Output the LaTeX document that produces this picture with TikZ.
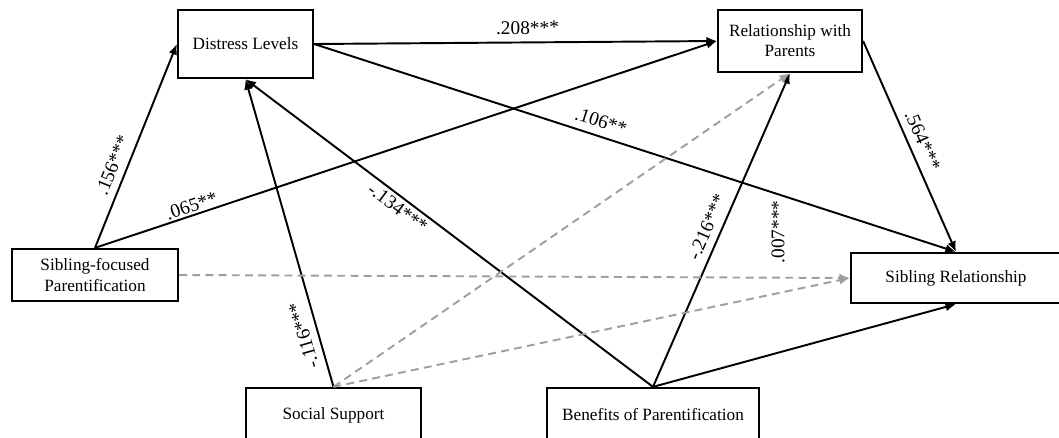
\documentclass[tikz,border=0pt]{standalone}
\usepackage{fontspec}
\setmainfont{Liberation Serif}
\usetikzlibrary{arrows.meta}

\begin{document}
\begin{tikzpicture}[x=0.02cm, y=-0.02cm, >={Latex[length=6pt,width=5pt]},
			var/.style={draw, line width=1.3pt, fill=none, align=center,
				text centered, text=black, inner sep=0pt, font=\fontsize{9.8}{11.5}\selectfont},
			eff/.style={->, line width=1.1pt, black},
			nseff/.style={->, line width=1.1pt, gray!75, dash pattern=on 4.5pt off 3pt},
			coef/.style={font=\fontsize{11}{13}\selectfont, inner sep=4pt}]
			\useasboundingbox (0,0) rectangle (1059,437);
			\node[var, minimum width=2.7cm, minimum height=1.36cm] (dl) at (245.5, 44) {Distress Levels};
			\node[var, minimum width=2.88cm, minimum height=1.24cm] (rwp) at (790, 41) {Relationship with\\Parents};
			\node[var, minimum width=3.32cm, minimum height=1.04cm] (sfp) at (95, 275) {Sibling-focused\\Parentification};
			\node[var, minimum width=4.2cm, minimum height=1.0cm] (sr) at (956, 278) {Sibling Relationship};
			\node[var, minimum width=3.5cm, minimum height=1.08cm] (ss) at (333.5, 415) {Social Support};
			\node[var, minimum width=4.24cm, minimum height=1.08cm] (bop) at (653, 415) {Benefits of Parentification};
			\node[coef, rotate=90] (b007) at (778, 232) {.007***};
			
			
			\path[eff] 	(sfp.north)  edge node[coef, sloped, above, pos=0.38] {.156***}  (dl.west);
			\path[eff] 	(sfp.north)  edge node[coef, sloped, above, pos=0.16, inner sep=1pt] {.065**}  (rwp.west);
			\path[eff] 	(dl.east)  edge node[coef, sloped, above, pos=0.53] {.208***}  (rwp.west);
			\path[eff] 	(dl.east)  edge node[coef, sloped, above, pos=0.44] {.106**}  (sr.north);
			\path[eff] 	(rwp.east)  edge node[coef, sloped, above, pos=0.5] {.564***}  (sr.north);
			\path[eff] 	(ss.north)  edge node[coef, sloped, allow upside down, above, pos=0.18] {-.116***}  (dl.south);
			\path[eff] 	(bop.north)  edge node[coef, sloped, below, pos=0.61, inner sep=2pt] {-.134***}  (dl.south);
			\path[eff] 	(bop.north)  edge node[coef, sloped, above, pos=0.49] {-.216***}  (rwp.south);
			\path[eff] 	(bop.north)  edge   (sr.south);
			\path[nseff] 	(sfp.east)  edge   (sr.west);
			\path[nseff] 	(ss.north)  edge   (rwp.south);
			\path[nseff] 	(ss.north)  edge   (sr.west);
			\end{tikzpicture}
\end{document}
